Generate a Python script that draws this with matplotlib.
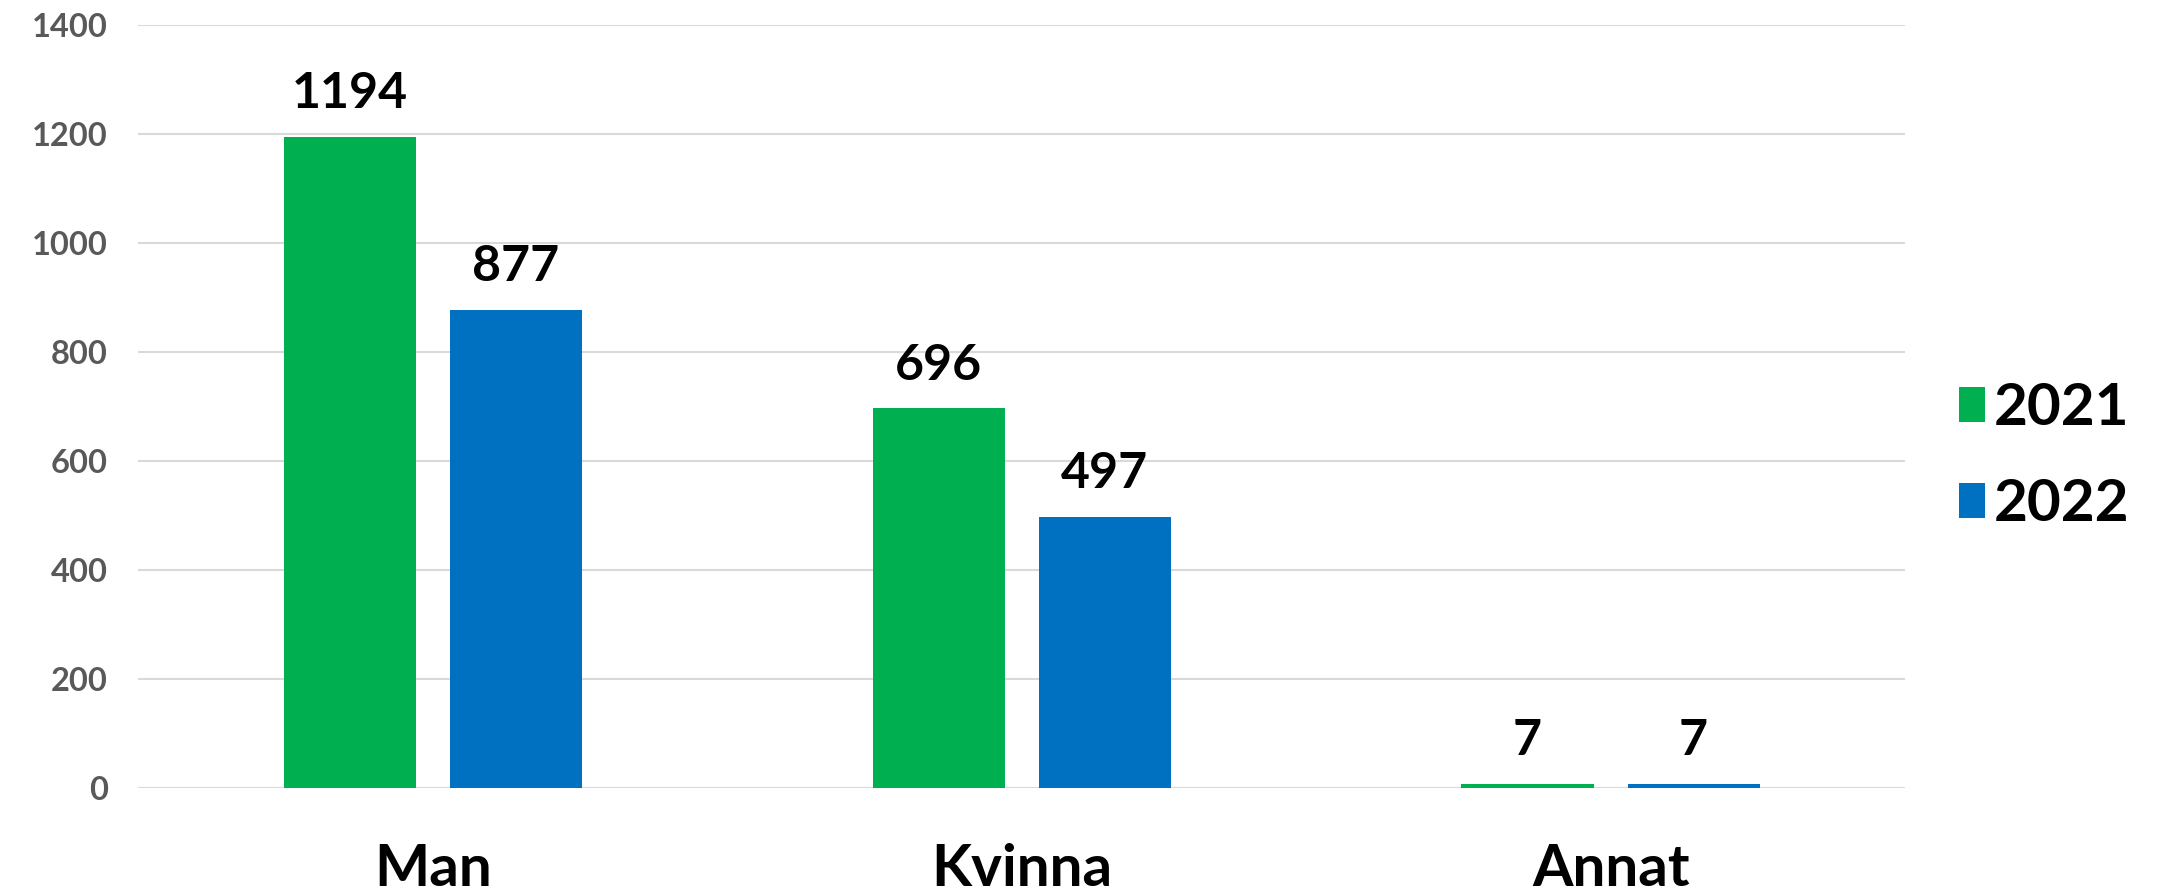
import numpy as np
import matplotlib
matplotlib.use("Agg")
import matplotlib.pyplot as plt

# data
categories = ["Man", "Kvinna", "Annat"]
years = ["2021", "2022"]
values_2021 = [1194, 696, 7]
values_2022 = [877, 497, 7]
yticks = [0, 200, 400, 600, 800, 1000, 1200, 1400]

green = "#00B050"
blue = "#0070C0"

plt.rcParams['font.family'] = ['Lato', 'DejaVu Sans']
plt.rcParams['font.weight'] = 'bold'

fig = plt.figure(figsize=(21.6, 8.92), dpi=100)
ax = fig.add_axes([0.064, 0.117, 0.818, 0.855])

x = np.arange(len(categories))
w = 0.2245
off = 0.141

b1 = ax.bar(x - off, values_2021, w, color=green, label=years[0], zorder=3)
b2 = ax.bar(x + off, values_2022, w, color=blue, label=years[1], zorder=3)

# value labels above bars
for bars in (b1, b2):
    for rect in bars:
        h = rect.get_height()
        ax.annotate(str(int(h)), (rect.get_x() + rect.get_width() / 2, h),
                    xytext=(0, 15), textcoords='offset points',
                    ha='center', va='bottom', fontsize=36, fontweight='bold',
                    color='black')

ax.set_xlim(-0.5, 2.5)
ax.set_ylim(0, 1400)
ax.set_yticks(yticks)
ax.set_yticklabels([str(t) for t in yticks])
ax.set_xticks(x)
ax.set_xticklabels(categories)

ax.tick_params(axis='y', length=0, pad=22, labelsize=23.5, labelcolor='#595959')
ax.tick_params(axis='x', length=0, pad=40, labelsize=42, labelcolor='black')
for lab in ax.get_yticklabels() + ax.get_xticklabels():
    lab.set_fontweight('bold')

ax.grid(axis='y', color='#D9D9D9', linewidth=1.5, zorder=0)
for s in ax.spines.values():
    s.set_visible(False)

fig.legend(handles=[b1, b2], labels=years, loc='center left',
           bbox_to_anchor=(0.907, 0.488), frameon=False,
           borderpad=0, borderaxespad=0,
           handlelength=0.45, handleheight=0.55, handletextpad=0.15,
           labelspacing=0.74, prop={'size': 42, 'weight': 'bold'})

fig.savefig("out.png", dpi=100, facecolor='white')
